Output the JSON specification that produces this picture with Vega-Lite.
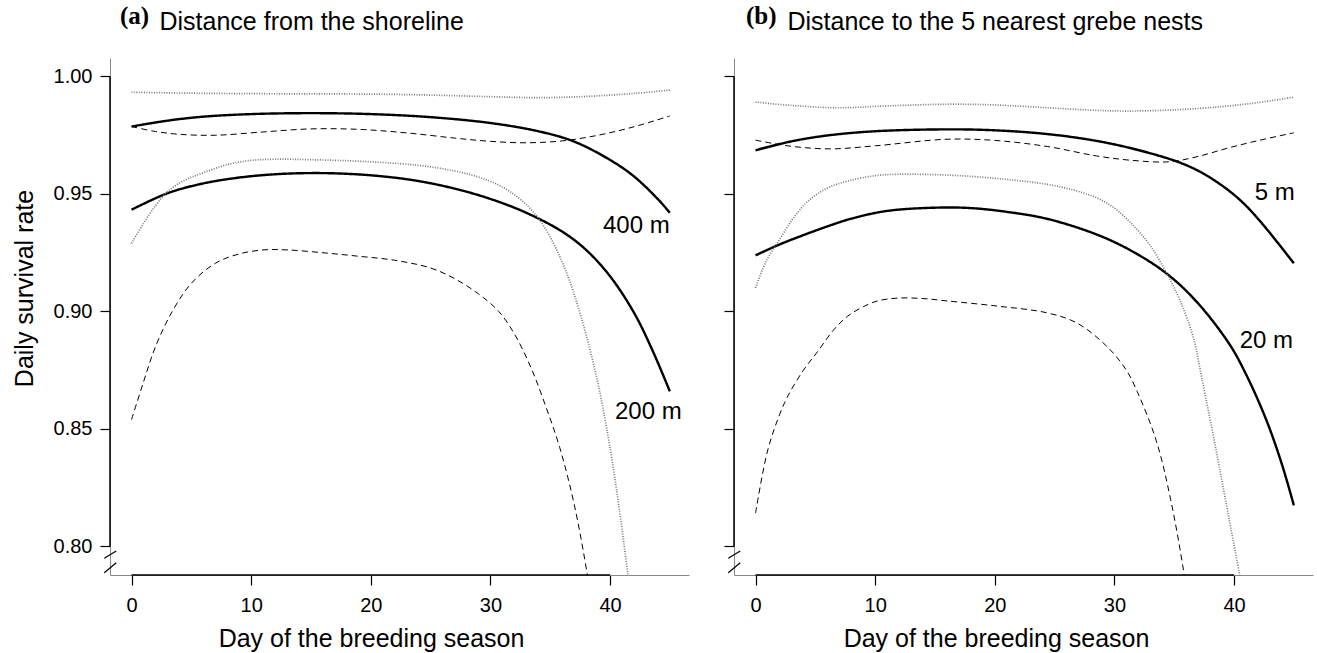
{
"$schema":"https://vega.github.io/schema/vega-lite/v6.json",
"padding":{"left":12,"top":4,"right":2,"bottom":2},
"config":{"font":"Liberation Sans","view":{"stroke":null},
"axis":{"grid":false,"labelFont":"Liberation Sans","titleFont":"Liberation Sans","labelColor":"#000","titleColor":"#000","tickColor":"#000","domainColor":"#888","domainWidth":1,"labelFontSize":20,"titleFontSize":25,"titleFontWeight":"normal","tickSize":10,"tickWidth":1.2}},
"datasets":{
"curves":[
{"panel":"a","group":"400 m","kind":"est","day":0,"dsr":0.9787},{"panel":"a","group":"400 m","kind":"est","day":3,"dsr":0.9812},{"panel":"a","group":"400 m","kind":"est","day":6,"dsr":0.9829},{"panel":"a","group":"400 m","kind":"est","day":10,"dsr":0.9840},{"panel":"a","group":"400 m","kind":"est","day":15,"dsr":0.9844},{"panel":"a","group":"400 m","kind":"est","day":20,"dsr":0.9840},{"panel":"a","group":"400 m","kind":"est","day":25,"dsr":0.9827},{"panel":"a","group":"400 m","kind":"est","day":30,"dsr":0.9802},{"panel":"a","group":"400 m","kind":"est","day":34,"dsr":0.9767},{"panel":"a","group":"400 m","kind":"est","day":37,"dsr":0.9723},{"panel":"a","group":"400 m","kind":"est","day":40,"dsr":0.9645},{"panel":"a","group":"400 m","kind":"est","day":42,"dsr":0.9575},{"panel":"a","group":"400 m","kind":"est","day":44,"dsr":0.9478},{"panel":"a","group":"400 m","kind":"est","day":45,"dsr":0.9420},
{"panel":"a","group":"400 m","kind":"upper","day":0,"dsr":0.9933},{"panel":"a","group":"400 m","kind":"upper","day":5,"dsr":0.9929},{"panel":"a","group":"400 m","kind":"upper","day":10,"dsr":0.9927},{"panel":"a","group":"400 m","kind":"upper","day":15,"dsr":0.9926},{"panel":"a","group":"400 m","kind":"upper","day":20,"dsr":0.9925},{"panel":"a","group":"400 m","kind":"upper","day":25,"dsr":0.9921},{"panel":"a","group":"400 m","kind":"upper","day":30,"dsr":0.9914},{"panel":"a","group":"400 m","kind":"upper","day":34,"dsr":0.9910},{"panel":"a","group":"400 m","kind":"upper","day":38,"dsr":0.9915},{"panel":"a","group":"400 m","kind":"upper","day":42,"dsr":0.9928},{"panel":"a","group":"400 m","kind":"upper","day":45,"dsr":0.9942},
{"panel":"a","group":"400 m","kind":"lower","day":0,"dsr":0.9787},{"panel":"a","group":"400 m","kind":"lower","day":2,"dsr":0.9766},{"panel":"a","group":"400 m","kind":"lower","day":4,"dsr":0.9754},{"panel":"a","group":"400 m","kind":"lower","day":7,"dsr":0.9750},{"panel":"a","group":"400 m","kind":"lower","day":11,"dsr":0.9764},{"panel":"a","group":"400 m","kind":"lower","day":15,"dsr":0.9777},{"panel":"a","group":"400 m","kind":"lower","day":19,"dsr":0.9775},{"panel":"a","group":"400 m","kind":"lower","day":23,"dsr":0.9760},{"panel":"a","group":"400 m","kind":"lower","day":27,"dsr":0.9738},{"panel":"a","group":"400 m","kind":"lower","day":30,"dsr":0.9724},{"panel":"a","group":"400 m","kind":"lower","day":33,"dsr":0.9718},{"panel":"a","group":"400 m","kind":"lower","day":36,"dsr":0.9726},{"panel":"a","group":"400 m","kind":"lower","day":39,"dsr":0.9750},{"panel":"a","group":"400 m","kind":"lower","day":42,"dsr":0.9786},{"panel":"a","group":"400 m","kind":"lower","day":45,"dsr":0.9832},
{"panel":"a","group":"200 m","kind":"est","day":0,"dsr":0.9433},{"panel":"a","group":"200 m","kind":"est","day":3,"dsr":0.9503},{"panel":"a","group":"200 m","kind":"est","day":6,"dsr":0.9545},{"panel":"a","group":"200 m","kind":"est","day":9,"dsr":0.9570},{"panel":"a","group":"200 m","kind":"est","day":12,"dsr":0.9584},{"panel":"a","group":"200 m","kind":"est","day":15,"dsr":0.9589},{"panel":"a","group":"200 m","kind":"est","day":18,"dsr":0.9586},{"panel":"a","group":"200 m","kind":"est","day":21,"dsr":0.9575},{"panel":"a","group":"200 m","kind":"est","day":24,"dsr":0.9555},{"panel":"a","group":"200 m","kind":"est","day":27,"dsr":0.9523},{"panel":"a","group":"200 m","kind":"est","day":30,"dsr":0.9479},{"panel":"a","group":"200 m","kind":"est","day":33,"dsr":0.9420},{"panel":"a","group":"200 m","kind":"est","day":36,"dsr":0.9340},{"panel":"a","group":"200 m","kind":"est","day":38,"dsr":0.9262},{"panel":"a","group":"200 m","kind":"est","day":40,"dsr":0.9150},{"panel":"a","group":"200 m","kind":"est","day":42,"dsr":0.8995},{"panel":"a","group":"200 m","kind":"est","day":43.5,"dsr":0.8840},{"panel":"a","group":"200 m","kind":"est","day":45,"dsr":0.8660},
{"panel":"a","group":"200 m","kind":"upper","day":0,"dsr":0.9290},{"panel":"a","group":"200 m","kind":"upper","day":1,"dsr":0.9375},{"panel":"a","group":"200 m","kind":"upper","day":2,"dsr":0.9450},{"panel":"a","group":"200 m","kind":"upper","day":3,"dsr":0.9510},{"panel":"a","group":"200 m","kind":"upper","day":4.5,"dsr":0.9560},{"panel":"a","group":"200 m","kind":"upper","day":6,"dsr":0.9590},{"panel":"a","group":"200 m","kind":"upper","day":8,"dsr":0.9625},{"panel":"a","group":"200 m","kind":"upper","day":10,"dsr":0.9643},{"panel":"a","group":"200 m","kind":"upper","day":12,"dsr":0.9648},{"panel":"a","group":"200 m","kind":"upper","day":15,"dsr":0.9646},{"panel":"a","group":"200 m","kind":"upper","day":20,"dsr":0.9637},{"panel":"a","group":"200 m","kind":"upper","day":24,"dsr":0.9622},{"panel":"a","group":"200 m","kind":"upper","day":27,"dsr":0.9598},{"panel":"a","group":"200 m","kind":"upper","day":29,"dsr":0.9572},{"panel":"a","group":"200 m","kind":"upper","day":31,"dsr":0.9530},{"panel":"a","group":"200 m","kind":"upper","day":33,"dsr":0.9455},{"panel":"a","group":"200 m","kind":"upper","day":34.5,"dsr":0.9360},{"panel":"a","group":"200 m","kind":"upper","day":36.2,"dsr":0.9186},{"panel":"a","group":"200 m","kind":"upper","day":37.6,"dsr":0.8974},{"panel":"a","group":"200 m","kind":"upper","day":39,"dsr":0.8691},{"panel":"a","group":"200 m","kind":"upper","day":40,"dsr":0.8420},{"panel":"a","group":"200 m","kind":"upper","day":40.8,"dsr":0.8150},{"panel":"a","group":"200 m","kind":"upper","day":41.5,"dsr":0.7880},{"panel":"a","group":"200 m","kind":"upper","day":42,"dsr":0.7700},
{"panel":"a","group":"200 m","kind":"lower","day":0,"dsr":0.8540},{"panel":"a","group":"200 m","kind":"lower","day":1,"dsr":0.8700},{"panel":"a","group":"200 m","kind":"lower","day":2,"dsr":0.8850},{"panel":"a","group":"200 m","kind":"lower","day":3.4,"dsr":0.9000},{"panel":"a","group":"200 m","kind":"lower","day":5,"dsr":0.9120},{"panel":"a","group":"200 m","kind":"lower","day":7,"dsr":0.9205},{"panel":"a","group":"200 m","kind":"lower","day":9,"dsr":0.9245},{"panel":"a","group":"200 m","kind":"lower","day":11,"dsr":0.9262},{"panel":"a","group":"200 m","kind":"lower","day":13,"dsr":0.9262},{"panel":"a","group":"200 m","kind":"lower","day":16,"dsr":0.9250},{"panel":"a","group":"200 m","kind":"lower","day":19,"dsr":0.9235},{"panel":"a","group":"200 m","kind":"lower","day":22,"dsr":0.9218},{"panel":"a","group":"200 m","kind":"lower","day":25,"dsr":0.9185},{"panel":"a","group":"200 m","kind":"lower","day":27,"dsr":0.9140},{"panel":"a","group":"200 m","kind":"lower","day":29,"dsr":0.9075},{"panel":"a","group":"200 m","kind":"lower","day":30.7,"dsr":0.9000},{"panel":"a","group":"200 m","kind":"lower","day":32,"dsr":0.8905},{"panel":"a","group":"200 m","kind":"lower","day":33.4,"dsr":0.8760},{"panel":"a","group":"200 m","kind":"lower","day":34.6,"dsr":0.8600},{"panel":"a","group":"200 m","kind":"lower","day":35.8,"dsr":0.8420},{"panel":"a","group":"200 m","kind":"lower","day":37,"dsr":0.8180},{"panel":"a","group":"200 m","kind":"lower","day":38.1,"dsr":0.7880},{"panel":"a","group":"200 m","kind":"lower","day":38.6,"dsr":0.7700},
{"panel":"b","group":"5 m","kind":"est","day":0,"dsr":0.9686},{"panel":"b","group":"5 m","kind":"est","day":3,"dsr":0.9724},{"panel":"b","group":"5 m","kind":"est","day":6,"dsr":0.9749},{"panel":"b","group":"5 m","kind":"est","day":10,"dsr":0.9767},{"panel":"b","group":"5 m","kind":"est","day":16,"dsr":0.9775},{"panel":"b","group":"5 m","kind":"est","day":20,"dsr":0.9771},{"panel":"b","group":"5 m","kind":"est","day":24.4,"dsr":0.9755},{"panel":"b","group":"5 m","kind":"est","day":28.5,"dsr":0.9726},{"panel":"b","group":"5 m","kind":"est","day":32,"dsr":0.9687},{"panel":"b","group":"5 m","kind":"est","day":35.5,"dsr":0.9633},{"panel":"b","group":"5 m","kind":"est","day":37.5,"dsr":0.9585},{"panel":"b","group":"5 m","kind":"est","day":39.6,"dsr":0.9513},{"panel":"b","group":"5 m","kind":"est","day":41,"dsr":0.9450},{"panel":"b","group":"5 m","kind":"est","day":42.4,"dsr":0.9371},{"panel":"b","group":"5 m","kind":"est","day":44,"dsr":0.9270},{"panel":"b","group":"5 m","kind":"est","day":45,"dsr":0.9205},
{"panel":"b","group":"5 m","kind":"upper","day":0,"dsr":0.9891},{"panel":"b","group":"5 m","kind":"upper","day":3,"dsr":0.9877},{"panel":"b","group":"5 m","kind":"upper","day":6.9,"dsr":0.9867},{"panel":"b","group":"5 m","kind":"upper","day":11,"dsr":0.9875},{"panel":"b","group":"5 m","kind":"upper","day":16.1,"dsr":0.9882},{"panel":"b","group":"5 m","kind":"upper","day":20,"dsr":0.9879},{"panel":"b","group":"5 m","kind":"upper","day":24.4,"dsr":0.9867},{"panel":"b","group":"5 m","kind":"upper","day":28,"dsr":0.9857},{"panel":"b","group":"5 m","kind":"upper","day":31,"dsr":0.9853},{"panel":"b","group":"5 m","kind":"upper","day":35,"dsr":0.9858},{"panel":"b","group":"5 m","kind":"upper","day":39,"dsr":0.9872},{"panel":"b","group":"5 m","kind":"upper","day":42,"dsr":0.9889},{"panel":"b","group":"5 m","kind":"upper","day":45,"dsr":0.9912},
{"panel":"b","group":"5 m","kind":"lower","day":0,"dsr":0.9729},{"panel":"b","group":"5 m","kind":"lower","day":3,"dsr":0.9703},{"panel":"b","group":"5 m","kind":"lower","day":6.3,"dsr":0.9692},{"panel":"b","group":"5 m","kind":"lower","day":10,"dsr":0.9705},{"panel":"b","group":"5 m","kind":"lower","day":16,"dsr":0.9733},{"panel":"b","group":"5 m","kind":"lower","day":20,"dsr":0.9728},{"panel":"b","group":"5 m","kind":"lower","day":24.4,"dsr":0.9702},{"panel":"b","group":"5 m","kind":"lower","day":28.5,"dsr":0.9662},{"panel":"b","group":"5 m","kind":"lower","day":31.5,"dsr":0.9643},{"panel":"b","group":"5 m","kind":"lower","day":34.6,"dsr":0.9637},{"panel":"b","group":"5 m","kind":"lower","day":37,"dsr":0.9660},{"panel":"b","group":"5 m","kind":"lower","day":39.6,"dsr":0.9697},{"panel":"b","group":"5 m","kind":"lower","day":42,"dsr":0.9727},{"panel":"b","group":"5 m","kind":"lower","day":44.4,"dsr":0.9754},{"panel":"b","group":"5 m","kind":"lower","day":45,"dsr":0.9760},
{"panel":"b","group":"20 m","kind":"est","day":0,"dsr":0.9239},{"panel":"b","group":"20 m","kind":"est","day":2,"dsr":0.9285},{"panel":"b","group":"20 m","kind":"est","day":4,"dsr":0.9325},{"panel":"b","group":"20 m","kind":"est","day":6,"dsr":0.9362},{"panel":"b","group":"20 m","kind":"est","day":8,"dsr":0.9395},{"panel":"b","group":"20 m","kind":"est","day":11,"dsr":0.9428},{"panel":"b","group":"20 m","kind":"est","day":15.2,"dsr":0.9442},{"panel":"b","group":"20 m","kind":"est","day":18,"dsr":0.9440},{"panel":"b","group":"20 m","kind":"est","day":21,"dsr":0.9424},{"panel":"b","group":"20 m","kind":"est","day":24.4,"dsr":0.9394},{"panel":"b","group":"20 m","kind":"est","day":28.5,"dsr":0.9328},{"panel":"b","group":"20 m","kind":"est","day":31.5,"dsr":0.9256},{"panel":"b","group":"20 m","kind":"est","day":34.4,"dsr":0.9160},{"panel":"b","group":"20 m","kind":"est","day":36.9,"dsr":0.9040},{"panel":"b","group":"20 m","kind":"est","day":39.6,"dsr":0.8862},{"panel":"b","group":"20 m","kind":"est","day":41,"dsr":0.8733},{"panel":"b","group":"20 m","kind":"est","day":42.7,"dsr":0.8538},{"panel":"b","group":"20 m","kind":"est","day":44,"dsr":0.8350},{"panel":"b","group":"20 m","kind":"est","day":45,"dsr":0.8175},
{"panel":"b","group":"20 m","kind":"upper","day":0,"dsr":0.9100},{"panel":"b","group":"20 m","kind":"upper","day":0.9,"dsr":0.9215},{"panel":"b","group":"20 m","kind":"upper","day":2.1,"dsr":0.9314},{"panel":"b","group":"20 m","kind":"upper","day":3.2,"dsr":0.9400},{"panel":"b","group":"20 m","kind":"upper","day":4.4,"dsr":0.9470},{"panel":"b","group":"20 m","kind":"upper","day":6,"dsr":0.9525},{"panel":"b","group":"20 m","kind":"upper","day":7.7,"dsr":0.9555},{"panel":"b","group":"20 m","kind":"upper","day":10,"dsr":0.9578},{"panel":"b","group":"20 m","kind":"upper","day":11.9,"dsr":0.9584},{"panel":"b","group":"20 m","kind":"upper","day":14.5,"dsr":0.9583},{"panel":"b","group":"20 m","kind":"upper","day":17.4,"dsr":0.9577},{"panel":"b","group":"20 m","kind":"upper","day":21,"dsr":0.9562},{"panel":"b","group":"20 m","kind":"upper","day":24.4,"dsr":0.9541},{"panel":"b","group":"20 m","kind":"upper","day":26.5,"dsr":0.9518},{"panel":"b","group":"20 m","kind":"upper","day":28.5,"dsr":0.9484},{"panel":"b","group":"20 m","kind":"upper","day":30,"dsr":0.9440},{"panel":"b","group":"20 m","kind":"upper","day":31.5,"dsr":0.9370},{"panel":"b","group":"20 m","kind":"upper","day":33,"dsr":0.9280},{"panel":"b","group":"20 m","kind":"upper","day":34.4,"dsr":0.9160},{"panel":"b","group":"20 m","kind":"upper","day":35.5,"dsr":0.9045},{"panel":"b","group":"20 m","kind":"upper","day":36.6,"dsr":0.8889},{"panel":"b","group":"20 m","kind":"upper","day":37.3,"dsr":0.8718},{"panel":"b","group":"20 m","kind":"upper","day":38.5,"dsr":0.8410},{"panel":"b","group":"20 m","kind":"upper","day":39.5,"dsr":0.8140},{"panel":"b","group":"20 m","kind":"upper","day":40.5,"dsr":0.7870},{"panel":"b","group":"20 m","kind":"upper","day":41,"dsr":0.7720},
{"panel":"b","group":"20 m","kind":"lower","day":0,"dsr":0.8142},{"panel":"b","group":"20 m","kind":"lower","day":1,"dsr":0.8406},{"panel":"b","group":"20 m","kind":"lower","day":2,"dsr":0.8560},{"panel":"b","group":"20 m","kind":"lower","day":2.7,"dsr":0.8640},{"panel":"b","group":"20 m","kind":"lower","day":4,"dsr":0.8750},{"panel":"b","group":"20 m","kind":"lower","day":5.2,"dsr":0.8830},{"panel":"b","group":"20 m","kind":"lower","day":6.5,"dsr":0.8920},{"panel":"b","group":"20 m","kind":"lower","day":7.7,"dsr":0.8980},{"panel":"b","group":"20 m","kind":"lower","day":9,"dsr":0.9020},{"panel":"b","group":"20 m","kind":"lower","day":10.2,"dsr":0.9045},{"panel":"b","group":"20 m","kind":"lower","day":11.9,"dsr":0.9057},{"panel":"b","group":"20 m","kind":"lower","day":14,"dsr":0.9055},{"panel":"b","group":"20 m","kind":"lower","day":16,"dsr":0.9045},{"panel":"b","group":"20 m","kind":"lower","day":20.2,"dsr":0.9023},{"panel":"b","group":"20 m","kind":"lower","day":24.4,"dsr":0.8994},{"panel":"b","group":"20 m","kind":"lower","day":26.9,"dsr":0.8950},{"panel":"b","group":"20 m","kind":"lower","day":29.4,"dsr":0.8850},{"panel":"b","group":"20 m","kind":"lower","day":31,"dsr":0.8750},{"panel":"b","group":"20 m","kind":"lower","day":31.9,"dsr":0.8660},{"panel":"b","group":"20 m","kind":"lower","day":33.5,"dsr":0.8450},{"panel":"b","group":"20 m","kind":"lower","day":34.7,"dsr":0.8200},{"panel":"b","group":"20 m","kind":"lower","day":35.8,"dsr":0.7890},{"panel":"b","group":"20 m","kind":"lower","day":36.3,"dsr":0.7700}
],
"labels":[
{"panel":"a","label":"400 m","day":42.2,"dsr":0.9364},{"panel":"a","label":"200 m","day":43.2,"dsr":0.8572},
{"panel":"b","label":"5 m","day":43.4,"dsr":0.9504},{"panel":"b","label":"20 m","day":42.7,"dsr":0.8874}
]},
"spacing":34,
"hconcat":[
{"width":579,"height":517,
"title":{"text":"(a)","font":"Liberation Serif","fontSize":25,"fontWeight":"bold","color":"#000","anchor":"start","frame":"group","dx":10,"offset":-20},
"resolve":{"axis":{"x":"independent","y":"independent"}},
"layer":[
{"data":{"name":"curves"},"transform":[{"filter":"datum.panel==='a'"}],
"mark":{"type":"line","clip":true,"interpolate":"catmull-rom"},
"encoding":{
"x":{"field":"day","type":"quantitative","scale":{"domain":[-1.8,46.6],"nice":false,"zero":false},"axis":{"values":[0,10,20,30,40],"labelPadding":10,"title":"Day of the breeding season","titleX":261,"titleY":63,"titleAlign":"center","titleBaseline":"middle"}},
"y":{"field":"dsr","type":"quantitative","scale":{"domain":[0.78787,1.00787],"nice":false,"zero":false},"axis":{"values":[0.8,0.85,0.9,0.95,1.0],"format":".2f","labelPadding":8,"title":"Daily survival rate","titleX":-86,"titleY":230,"titleAngle":-90,"titleAlign":"center","titleBaseline":"middle"}},
"detail":{"field":"group"},
"color":{"field":"kind","type":"nominal","scale":{"domain":["est","upper","lower"],"range":["#000","#777","#000"]},"legend":null},
"strokeDash":{"field":"kind","type":"nominal","scale":{"domain":["est","upper","lower"],"range":[[1,0],[1,1.5],[6,4]]},"legend":null},
"strokeWidth":{"field":"kind","type":"ordinal","scale":{"domain":["est","upper","lower"],"range":[2.4,1,1.1]},"legend":null}}},
{"data":{"name":"labels"},"transform":[{"filter":"datum.panel==='a'"}],
"mark":{"type":"text","fontSize":24,"align":"center","baseline":"middle","color":"#000"},
"encoding":{"text":{"field":"label"},
"x":{"field":"day","type":"quantitative","scale":{"domain":[-1.8,46.6],"nice":false,"zero":false},"axis":{"orient":"top","ticks":false,"labels":false,"domain":false,"title":"Distance from the shoreline","titleAnchor":"start","titleAlign":"left","titleBaseline":"middle","titleX":49,"titleY":-37}},
"y":{"field":"dsr","type":"quantitative","scale":{"domain":[0.78787,1.00787],"nice":false,"zero":false},"axis":null}}},
{"data":{"values":[{}]},"mark":{"type":"rule","color":"#000","strokeWidth":1.5},
"encoding":{"x":{"datum":0,"axis":null},"x2":{"datum":40},"y":{"datum":0.78787,"axis":null}}},
{"data":{"values":[{}]},"mark":{"type":"rule","color":"#000","strokeWidth":1.5},
"encoding":{"x":{"datum":-1.8,"axis":null},"y":{"datum":0.8,"axis":null},"y2":{"datum":1.0}}},
{"data":{"values":[{}]},"mark":{"type":"point","shape":"M-0.48,-0.31L0.52,-0.92M-0.48,0.89L0.52,0.06","size":576,"filled":false,"stroke":"#000","strokeWidth":1.2,"opacity":1,"clip":false},
"encoding":{"x":{"datum":-1.8,"axis":null},"y":{"datum":0.7934,"axis":null}}}
]},
{"width":579,"height":517,
"title":{"text":"(b)","font":"Liberation Serif","fontSize":25,"fontWeight":"bold","color":"#000","anchor":"start","frame":"group","dx":12,"offset":-20},
"resolve":{"axis":{"x":"independent","y":"independent"}},
"layer":[
{"data":{"name":"curves"},"transform":[{"filter":"datum.panel==='b'"}],
"mark":{"type":"line","clip":true,"interpolate":"catmull-rom"},
"encoding":{
"x":{"field":"day","type":"quantitative","scale":{"domain":[-1.8,46.6],"nice":false,"zero":false},"axis":{"values":[0,10,20,30,40],"labelPadding":10,"title":"Day of the breeding season","titleX":262,"titleY":63,"titleAlign":"center","titleBaseline":"middle"}},
"y":{"field":"dsr","type":"quantitative","scale":{"domain":[0.78787,1.00787],"nice":false,"zero":false},"axis":{"values":[0.8,0.85,0.9,0.95,1.0],"labels":false,"title":null}},
"detail":{"field":"group"},
"color":{"field":"kind","type":"nominal","scale":{"domain":["est","upper","lower"],"range":["#000","#777","#000"]},"legend":null},
"strokeDash":{"field":"kind","type":"nominal","scale":{"domain":["est","upper","lower"],"range":[[1,0],[1,1.5],[6,4]]},"legend":null},
"strokeWidth":{"field":"kind","type":"ordinal","scale":{"domain":["est","upper","lower"],"range":[2.4,1,1.1]},"legend":null}}},
{"data":{"name":"labels"},"transform":[{"filter":"datum.panel==='b'"}],
"mark":{"type":"text","fontSize":24,"align":"center","baseline":"middle","color":"#000"},
"encoding":{"text":{"field":"label"},
"x":{"field":"day","type":"quantitative","scale":{"domain":[-1.8,46.6],"nice":false,"zero":false},"axis":{"orient":"top","ticks":false,"labels":false,"domain":false,"title":"Distance to the 5 nearest grebe nests","titleAnchor":"start","titleAlign":"left","titleBaseline":"middle","titleX":53,"titleY":-37}},
"y":{"field":"dsr","type":"quantitative","scale":{"domain":[0.78787,1.00787],"nice":false,"zero":false},"axis":null}}},
{"data":{"values":[{}]},"mark":{"type":"rule","color":"#000","strokeWidth":1.5},
"encoding":{"x":{"datum":0,"axis":null},"x2":{"datum":40},"y":{"datum":0.78787,"axis":null}}},
{"data":{"values":[{}]},"mark":{"type":"rule","color":"#000","strokeWidth":1.5},
"encoding":{"x":{"datum":-1.8,"axis":null},"y":{"datum":0.8,"axis":null},"y2":{"datum":1.0}}},
{"data":{"values":[{}]},"mark":{"type":"point","shape":"M-0.48,-0.31L0.52,-0.92M-0.48,0.89L0.52,0.06","size":576,"filled":false,"stroke":"#000","strokeWidth":1.2,"opacity":1,"clip":false},
"encoding":{"x":{"datum":-1.8,"axis":null},"y":{"datum":0.7934,"axis":null}}}
]}
]}
